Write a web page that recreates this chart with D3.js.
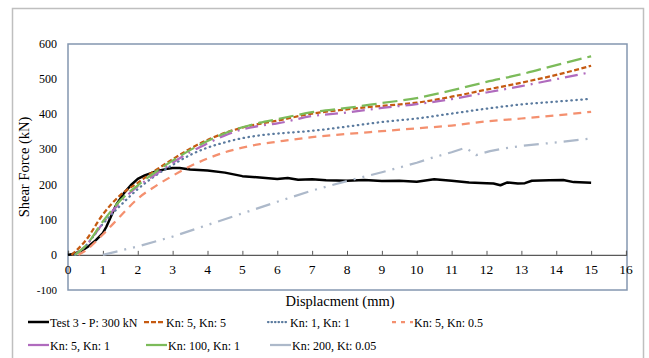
<!DOCTYPE html>
<html>
<head>
<meta charset="utf-8">
<script src="https://cdn.jsdelivr.net/npm/d3@7"></script>
<style>
  body { margin: 0; background: #fff; }
</style>
</head>
<body>
<svg id="chart" width="649" height="358"></svg>
<script>
const FONT = "'Liberation Serif', 'Times New Roman', 'DejaVu Serif', serif";

// Tick labels
const X_TICKS = d3.range(0, 17);
const Y_TICKS = [-100, 0, 100, 200, 300, 400, 500, 600];

// Series data: [displacement (mm), shear force (kN)]
const test3 = [[0,0],[0.2,4],[0.4,12],[0.6,25],[0.8,42],[1,62],[1.1,80],[1.2,102],[1.3,125],[1.4,145],[1.5,160],
  [1.6,175],[1.8,198],[2,216],[2.2,226],[2.5,237],[2.8,244],[3,247],[3.2,247],[3.5,243],[4,240],[4.5,234],
  [5,224],[5.5,220],[6,216],[6.3,219],[6.6,214],[7,215],[7.4,212],[8,211],[8.5,213],[9,210],[9.5,211],
  [10,208],[10.5,215],[11,211],[11.5,206],[12,204],[12.2,203],[12.4,198],[12.6,206],[12.9,203],[13.1,204],
  [13.3,211],[13.8,212],[14.2,213],[14.5,207],[15,205]];
const kn5kn5 = [[0.1,0],[0.5,40],[1,115],[1.5,170],[2,205],[2.5,240],[3,272],[3.5,302],[4,327],[4.5,347],
  [5,362],[5.5,373],[6,382],[7,402],[8,414],[9,424],[10,433],[11,450],[12,470],[13,490],[14,512],[15,538]];
const kn1kn1 = [[0.2,0],[0.5,25],[1,88],[1.5,140],[2,187],[2.5,225],[3,256],[3.5,284],[4,305],[4.5,320],
  [5,332],[5.5,340],[6,345],[7,353],[8,365],[9,378],[10,388],[11,402],[12,416],[13,428],[14,436],[15,444]];
const kn5kn05 = [[0.3,0],[0.5,12],[1,58],[1.5,110],[2,160],[2.5,195],[3,225],[3.5,252],[4,274],[4.5,292],
  [5,305],[5.5,315],[6,322],[7,335],[8,344],[9,352],[10,360],[11,368],[12,380],[13,388],[14,397],[15,407]];
const kn5kn1 = [[0.2,0],[0.5,25],[1,90],[1.5,150],[2,195],[2.5,228],[3,262],[3.5,292],[4,317],[4.5,340],
  [5,357],[5.5,367],[6,374],[7,395],[8,405],[9,418],[10,429],[11,443],[12,462],[13,480],[14,500],[15,520]];
const kn100kn1 = [[0.2,0],[0.5,25],[1,95],[1.5,155],[2,198],[2.5,235],[3,268],[3.5,298],[4,324],[4.5,346],
  [5,363],[5.5,376],[6,386],[7,406],[8,418],[9,432],[10,446],[11,468],[12,492],[13,514],[14,540],[15,565]];
const kn200kt005 = [[1,0],[2,24],[3,52],[4,85],[5,118],[6,151],[7,183],[8,210],[9,235],[10,262],[10.4,275],
  [11,292],[11.4,305],[11.7,284],[12.1,295],[12.5,303],[13,310],[14,320],[15,331]];

const series = [
  { name: "Test 3 - P: 300 kN", data: test3, color: "#000000", dash: null, width: 2.5, curve: d3.curveLinear },
  { name: "Kn: 5, Kn: 5", data: kn5kn5, color: "#C55A11", dash: "5,2.5", width: 2.25 },
  { name: "Kn: 1, Kn: 1", data: kn1kn1, color: "#5A7A9E", dash: "0.5,4.5", width: 2.25, cap: "round" },
  { name: "Kn: 5, Kn: 0.5", data: kn5kn05, color: "#F4906F", dash: "8,6", width: 2.25 },
  { name: "Kn: 5, Kn: 1", data: kn5kn1, color: "#B06BBE", dash: "13,6,2,6", width: 2.25 },
  { name: "Kn: 100, Kn: 1", data: kn100kn1, color: "#7CBB5A", dash: "15,6", width: 2.25 },
  { name: "Kn: 200, Kt: 0.05", data: kn200kt005, color: "#ADB9CA", dash: "15,7,2,7,2,7", width: 2.25, curve: d3.curveLinear }
];

const svg = d3.select("#chart").attr("font-family", FONT);

// outer frame
svg.append("rect")
  .attr("x", 12.5).attr("y", 8.5).attr("width", 631).attr("height", 360)
  .attr("fill", "none").attr("stroke", "#BFBFBF").attr("stroke-width", 1.5);

const plot = { left: 68, top: 44, right: 627, bottom: 290 };

const x = d3.scaleLinear().domain([0, 16]).range([plot.left, plot.right - 1]);
const y = d3.scaleLinear().domain([-100, 600]).range([plot.bottom, plot.top]);

// plot area border
svg.append("rect")
  .attr("x", plot.left).attr("y", plot.top)
  .attr("width", plot.right - plot.left).attr("height", plot.bottom - plot.top)
  .attr("fill", "none").attr("stroke", "#8497B0").attr("stroke-width", 1.5);

// x axis on the zero line
const xAxis = svg.append("g")
  .attr("transform", `translate(0,${y(0)})`)
  .call(d3.axisTop(x).tickValues(X_TICKS).tickSize(4).tickFormat(""));
xAxis.select(".domain").attr("stroke", "#595959").attr("stroke-width", 1.2);
xAxis.selectAll(".tick line").attr("stroke", "#595959");

svg.append("g").selectAll("text")
  .data(X_TICKS)
  .join("text")
  .attr("x", d => x(d))
  .attr("y", y(0) + 19)
  .attr("text-anchor", "middle")
  .attr("font-size", 13.5)
  .text(d => d);

// y labels
svg.append("g").selectAll("text")
  .data(Y_TICKS)
  .join("text")
  .attr("x", 57)
  .attr("y", d => y(d) + 4)
  .attr("text-anchor", "end")
  .attr("font-size", d => d === -100 ? 11 : 12)
  .text(d => d);

// axis titles
svg.append("text")
  .attr("transform", `translate(29,${y(250)}) rotate(-90)`)
  .attr("text-anchor", "middle")
  .attr("font-size", 14.5)
  .text("Shear Force (kN)");

svg.append("text")
  .attr("x", 340).attr("y", 306)
  .attr("text-anchor", "middle")
  .attr("font-size", 14.5)
  .text("Displacment (mm)");

// series lines
const lines = svg.append("g");
series.forEach(s => {
  const line = d3.line()
    .x(d => x(d[0]))
    .y(d => y(d[1]))
    .curve(s.curve || d3.curveMonotoneX);
  lines.append("path")
    .datum(s.data)
    .attr("d", line)
    .attr("fill", "none")
    .attr("stroke", s.color)
    .attr("stroke-width", s.width)
    .attr("stroke-dasharray", s.dash)
    .attr("stroke-linecap", s.cap || "butt")
    .attr("stroke-linejoin", "round");
});

// legend
const legendPos = [
  [28, 322], [144, 322], [268, 322], [392, 322],
  [28, 345], [146, 345], [270, 345]
];
const legendDash = [null, "5,2", "0.5,3", "4,5", null, null, null];
const legend = svg.append("g");
series.forEach((s, i) => {
  const [lx, ly] = legendPos[i];
  legend.append("line")
    .attr("x1", lx).attr("x2", lx + 21)
    .attr("y1", ly).attr("y2", ly)
    .attr("stroke", s.color)
    .attr("stroke-width", s.width)
    .attr("stroke-dasharray", legendDash[i])
    .attr("stroke-linecap", s.cap || "butt");
  legend.append("text")
    .attr("x", lx + 22)
    .attr("y", ly + 5)
    .attr("font-size", 12)
    .text(s.name);
});
</script>
</body>
</html>
